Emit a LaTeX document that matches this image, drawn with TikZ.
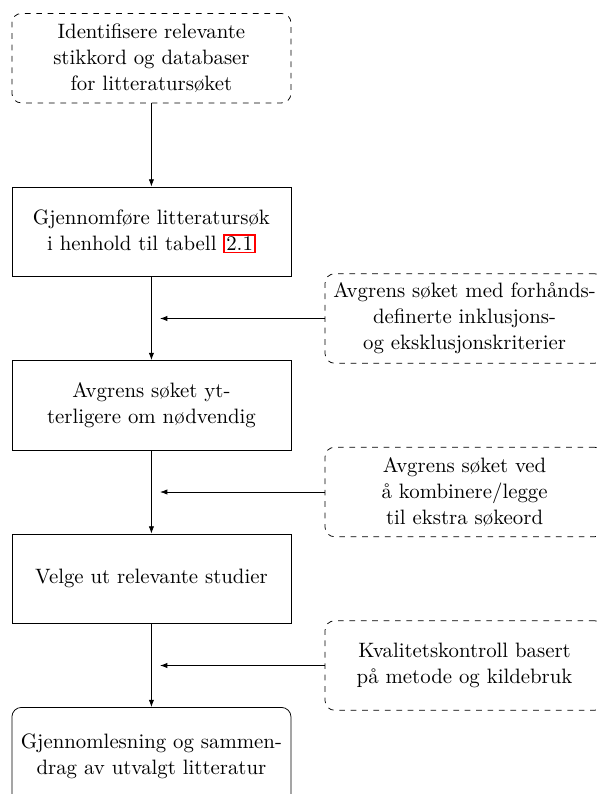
\documentclass[tikz,border=0pt]{standalone}
\usepackage{tikz}
\usetikzlibrary{arrows.meta}
\newcommand{\linkref}[1]{{\setlength{\fboxsep}{0.6pt}\setlength{\fboxrule}{0.9pt}\fcolorbox{red}{white}{#1}}}

\begin{document}
\begin{tikzpicture}[
 every node/.style={font=\fontsize{10.95}{13.6}\selectfont,align=center},
 mainbox/.style={draw,minimum width=5.16cm,minimum height=1.655cm},
 dashbox/.style={mainbox,dashed,rounded corners=5pt},
 endbox/.style={mainbox,rounded corners=5pt,minimum height=1.8cm},
 flow/.style={-{Latex[length=3.8pt,width=2.8pt]}}]
 \path[use as bounding box,clip] (0,0) rectangle (11.057,-14.681);
 \node[dashbox] (ident) at (2.80,-1.076) {Identifisere relevante\\stikkord og databaser\\for litteraturs{\o}ket};
 \node[mainbox] (sok) at (2.80,-4.284) {Gjennomf{\o}re litteraturs{\o}k\\i henhold til tabell \linkref{2.1}};
 \node[mainbox] (avgr) at (2.80,-7.492) {Avgrens s{\o}ket yt-\\terligere om n{\o}dvendig};
 \node[mainbox] (velg) at (2.80,-10.70) {Velge ut relevante studier};
 \node[endbox] (les) at (2.80,-13.98) {Gjennomlesning og sammen-\\drag av utvalgt litteratur};
 \node[dashbox] (krit) at (8.59,-5.889) {Avgrens s{\o}ket med forh{\aa}nds-\\definerte inklusjons-\\og eksklusjonskriterier};
 \node[dashbox] (komb) at (8.59,-9.097) {Avgrens s{\o}ket ved\\{\aa} kombinere/legge\\til ekstra s{\o}keord};
 \node[dashbox] (kval) at (8.59,-12.305) {Kvalitetskontroll basert\\p{\aa} metode og kildebruk};
 \coordinate (inn1) at (2.96,-5.889);
 \coordinate (inn2) at (2.96,-9.097);
 \coordinate (inn3) at (2.96,-12.305);
 \draw[flow] (ident) -- (sok);
 \draw[flow] (sok) -- (avgr);
 \draw[flow] (avgr) -- (velg);
 \draw[flow] (velg) -- (les);
 \draw[flow] (krit) -- (inn1);
 \draw[flow] (komb) -- (inn2);
 \draw[flow] (kval) -- (inn3);
\end{tikzpicture}
\end{document}
